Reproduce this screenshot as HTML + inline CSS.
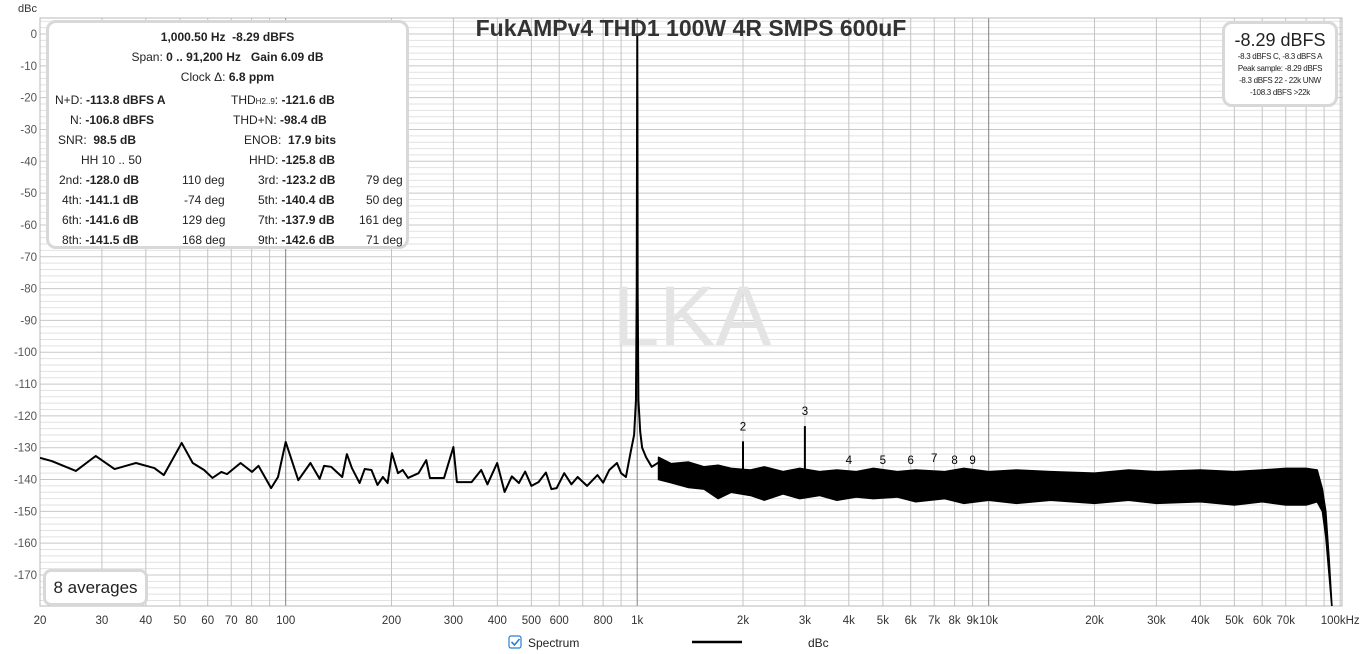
<!DOCTYPE html>
<html><head><meta charset="utf-8"><style>
body{margin:0;background:#fff;width:1362px;height:654px;overflow:hidden;font-family:"Liberation Sans",sans-serif}
</style></head><body>
<svg id="c" width="1362" height="654" xmlns="http://www.w3.org/2000/svg" style="position:absolute;left:0;top:0;font-family:'Liberation Sans',sans-serif"></svg>
<script>
const lineFreq=[20,21.6,25.3,28.8,32.6,37.5,42.3,45,50.6,54.4,58.6,61.9,65.6,68.1,74.4,80.2,83.7,90.9,95.1,100,108.6,117.6,124.9,128.6,134.7,139.6,144.8,149.3,154.3,162.3,167.8,175.4,182.5,189,195,200.6,208.7,215.2,222.9,238.8,251.1,257.2,282.2,300,307,338,360,375,399.6,419.6,440,460.8,480,500,524,550,570,590,620,650,677,720,771,800,833,876,900,929,958,980,992,997,999.5,1000.5,1001.5,1003,1008,1020,1033,1060,1100,1155];
const lineDb=[-133.2,-134.2,-137.3,-132.6,-136.7,-134.8,-136.4,-138.6,-128.5,-134.8,-137,-139.5,-137.6,-138.3,-134.8,-137.6,-135.7,-142.7,-139.2,-128.2,-140.2,-134.8,-139.8,-135.7,-136,-137.6,-139.2,-132,-136.4,-141.1,-136.7,-137,-141.7,-139.2,-141.1,-131.7,-138,-137,-139.5,-138,-133.9,-139.5,-139.5,-129.8,-140.8,-140.8,-137,-141.5,-134.8,-143.9,-139,-141.1,-137.5,-142,-140.8,-137.8,-143,-142.7,-138,-141.5,-139.2,-142,-138.6,-141,-137,-134.8,-138,-139.2,-131.4,-126,-115,-80,-20,-0.3,-20,-80,-115,-125,-130,-133,-136,-134.5];
const bandFreq=[1150,1250,1400,1550,1700,1850,2100,2300,2600,2900,3300,3700,4200,4700,5500,6200,7500,8500,10000,12000,15000,20000,25000,30000,40000,50000,60000,70000,80000,86000,89000,91000,93000,95000];
const bandHi=[-133,-135,-134.5,-136,-135.5,-136.5,-137,-136,-137.5,-136.5,-137.5,-137,-137.5,-136.5,-137.5,-137,-137.5,-136.5,-137.5,-137,-137.5,-138,-137,-137.5,-137,-137.5,-137,-136.5,-136.5,-137,-143,-150,-165,-182];
const bandLo=[-140,-141,-142.5,-143,-146,-144,-145,-146.5,-144.5,-146,-145,-146.5,-145.5,-146,-145.5,-147,-146,-147.5,-146.5,-147.5,-146.5,-147.5,-146.5,-147.5,-147,-148,-147,-148,-148,-147,-150,-158,-170,-182];
const harmFreq=[2000,3000,4000,5000,6000,7000,8000,9000];
const harmDb=[-128.0,-123.2,-141.1,-140.4,-141.6,-137.9,-141.5,-142.6];
const harmLabel=["2","3","4","5","6","7","8","9"];
const yTicks=[0,-10,-20,-30,-40,-50,-60,-70,-80,-90,-100,-110,-120,-130,-140,-150,-160,-170];
const xTickVals=[20,30,40,50,60,70,80,100,200,300,400,500,600,800,1000,2000,3000,4000,5000,6000,7000,8000,9000,10000,20000,30000,40000,50000,60000,70000,100000];
const xTickLabels=["20","30","40","50","60","70","80","100","200","300","400","500","600","800","1k","2k","3k","4k","5k","6k","7k","8k","9k","10k","20k","30k","40k","50k","60k","70k","100kHz"];

const L=40,R=1342,T=18,B=606;
const xS=f=>L+351.5*Math.log10(f/20);
const yS=d=>34-d*3.1824;
const svg=document.getElementById('c');
const NS='http://www.w3.org/2000/svg';
function mk(t,a,p){const e=document.createElementNS(NS,t);for(const k in a)e.setAttribute(k,a[k]);(p||svg).appendChild(e);return e;}

const grid=mk('g',{});


for(let d=4;d>=-180;d-=2){const y=yS(d);if(y<T||y>B)continue;mk('line',{x1:L,x2:R,y1:y,y2:y,stroke:d%10===0?'#c8c8c8':'#e2e2e2','stroke-width':1},grid);}
for(let dec=10;dec<=100000;dec*=10){for(let m=1;m<10;m++){const f=dec*m;if(f<20||f>103000)continue;const x=xS(f);const major=(m===1&&f>=100&&f<100000);mk('line',{x1:x,x2:x,y1:T,y2:B,stroke:major?'#808080':'#c4c4c4','stroke-width':1},grid);}}
mk('rect',{x:L,y:T,width:R-L,height:B-T,fill:'none',stroke:'#b8b8b8'});

const yl=mk('text',{x:18,y:12,'font-size':11,fill:'#333'});yl.textContent='dBc';


yTicks.forEach(v=>{const t=mk('text',{x:37,y:yS(v)+4,'font-size':11.5,fill:'#555','text-anchor':'end'});t.textContent=v;

});
xTickVals.forEach((v,i)=>{const t=mk('text',{x:xS(v),y:624,'font-size':11.5,fill:'#333','text-anchor':'middle'});t.textContent=xTickLabels[i];

});

const wm=mk('text',{x:692,y:345,'font-size':84,fill:'#e4e4e4','text-anchor':'middle'});wm.textContent='LKA';



const cp=mk('clipPath',{id:'pc'});mk('rect',{x:L,y:T,width:R-L,height:B-T},cp);
const dg=mk('g',{'clip-path':'url(#pc)'});
let bp=bandFreq.map((f,i)=>xS(f)+','+yS(bandHi[i])).concat(bandFreq.map((f,i)=>xS(f)+','+yS(bandLo[i])).reverse()).join(' ');
const band=mk('polygon',{points:bp,fill:'#000',stroke:'#000','stroke-width':1.5,'stroke-linejoin':'round'},dg);


const ln=mk('polyline',{points:lineFreq.map((f,i)=>xS(f)+','+yS(lineDb[i])).join(' '),fill:'none',stroke:'#000','stroke-width':2,'stroke-linejoin':'round'},dg);


harmFreq.forEach((f,i)=>{const x=xS(f);
const s=mk('line',{x1:x,x2:x,y1:yS(-139),y2:yS(harmDb[i]),stroke:'#000','stroke-width':2},dg);


const t=mk('text',{x:x,y:yS(Math.max(harmDb[i],-138.5))-11,'font-size':11.5,fill:'#000','text-anchor':'middle'});t.textContent=harmLabel[i];

});

const ti=mk('text',{x:691,y:36,'font-size':23,'font-weight':'bold',fill:'#333','text-anchor':'middle'});ti.textContent='FukAMPv4 THD1 100W 4R SMPS 600uF';



const lg=mk('g',{});


const cb=mk('rect',{x:509,y:636,width:12,height:12,rx:2,fill:'#fff',stroke:'#2a7fd4','stroke-width':1.2},lg);


mk('path',{d:'M511.5 642 l3 3 l5 -6',fill:'none',stroke:'#2a7fd4','stroke-width':1.6},lg);
const lt=mk('text',{x:528,y:647,'font-size':12,fill:'#222'},lg);lt.textContent='Spectrum';
mk('line',{x1:692,x2:742,y1:642,y2:642,stroke:'#000','stroke-width':2.5},lg);
const lu=mk('text',{x:808,y:647,'font-size':12,fill:'#222'},lg);lu.textContent='dBc';
</script>

<div style="position:absolute;left:46px;top:20px;width:357px;height:223px;border:3px solid #d8d8d8;border-radius:10px;background:#fff;font-size:12px;color:#222;">
<div style="position:absolute;top:7px;width:100%;text-align:center"><b>1,000.50 Hz &nbsp;-8.29 dBFS</b></div>
<div style="position:absolute;top:27px;width:100%;text-align:center">Span: <b>0 .. 91,200 Hz &nbsp; Gain 6.09 dB</b></div>
<div style="position:absolute;top:47px;width:100%;text-align:center">Clock Δ: <b>6.8 ppm</b></div>
<div style="position:absolute;left:4px;top:67px;line-height:20px;width:350px">
<div style="position:relative;height:20px"><span style="position:absolute;left:2px">N+D: <b>-113.8 dBFS A</b></span><span style="position:absolute;left:178px">THD<span style="font-size:8px">H2..9</span>: <b>-121.6 dB</b></span></div>
<div style="position:relative;height:20px"><span style="position:absolute;left:17px">N: <b>-106.8 dBFS</b></span><span style="position:absolute;left:180px">THD+N: <b>-98.4 dB</b></span></div>
<div style="position:relative;height:20px"><span style="position:absolute;left:5px">SNR: &nbsp;<b>98.5 dB</b></span><span style="position:absolute;left:191px">ENOB: &nbsp;<b>17.9 bits</b></span></div>
<div style="position:relative;height:20px"><span style="position:absolute;left:28px">HH 10 .. 50</span><span style="position:absolute;left:196px">HHD: <b>-125.8 dB</b></span></div>
<div style="position:relative;height:20px"><span style="position:absolute;left:6px">2nd: <b>-128.0 dB</b></span><span style="position:absolute;left:129px">110 deg</span><span style="position:absolute;left:205px">3rd: <b>-123.2 dB</b></span><span style="position:absolute;left:313px">79 deg</span></div>
<div style="position:relative;height:20px"><span style="position:absolute;left:9px">4th: <b>-141.1 dB</b></span><span style="position:absolute;left:131px">-74 deg</span><span style="position:absolute;left:205px">5th: <b>-140.4 dB</b></span><span style="position:absolute;left:313px">50 deg</span></div>
<div style="position:relative;height:20px"><span style="position:absolute;left:9px">6th: <b>-141.6 dB</b></span><span style="position:absolute;left:129px">129 deg</span><span style="position:absolute;left:205px">7th: <b>-137.9 dB</b></span><span style="position:absolute;left:306px">161 deg</span></div>
<div style="position:relative;height:20px"><span style="position:absolute;left:9px">8th: <b>-141.5 dB</b></span><span style="position:absolute;left:129px">168 deg</span><span style="position:absolute;left:205px">9th: <b>-142.6 dB</b></span><span style="position:absolute;left:313px">71 deg</span></div>
</div></div>

<div style="position:absolute;left:1222px;top:21px;width:110px;height:80px;border:3px solid #d8d8d8;border-radius:10px;background:#fff;color:#222;text-align:center;">
<div style="font-size:18px;margin-top:6px">-8.29 dBFS</div>
<div style="font-size:8px;line-height:12px;letter-spacing:-0.3px">-8.3 dBFS C, -8.3 dBFS A<br>Peak sample: -8.29 dBFS<br>-8.3 dBFS 22 - 22k UNW<br>-108.3 dBFS &gt;22k</div>
</div>

<div style="position:absolute;left:43px;top:569px;width:99px;height:31px;border:3px solid #d8d8d8;border-radius:8px;background:#fff;font-size:17px;color:#222;line-height:31px;text-align:center">8 averages</div>
</body></html>
